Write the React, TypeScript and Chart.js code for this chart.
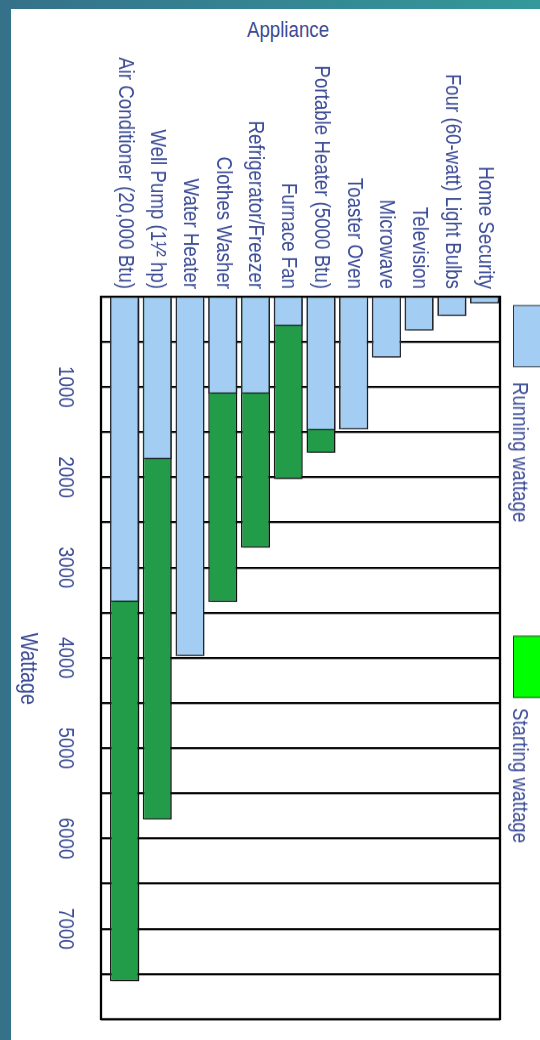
import React, { useEffect, useRef } from 'react';
import { Chart, registerables } from 'chart.js';

Chart.register(...registerables);

const categories = [
  'Air Conditioner (20,000 Btu)',
  'Well Pump (1\u00b9\u2044\u00b2 hp)',
  'Water Heater',
  'Clothes Washer',
  'Refrigerator/Freezer',
  'Furnace Fan',
  'Portable Heater (5000 Btu)',
  'Toaster Oven',
  'Microwave',
  'Television',
  'Four (60-watt) Light Bulbs',
  'Home Security',
];
const runningWattage = [3380, 1800, 3980, 1075, 1075, 325, 1480, 1470, 675, 375, 215, 75];
const startingWattage: (number | null)[] = [7580, 5790, null, 3380, 2780, 2020, 1730, null, null, null, null, null];
const wattageTicks = [1000, 2000, 3000, 4000, 5000, 6000, 7000];
const seriesNames = ['Running wattage', 'Starting wattage'];
const categoryTitle = 'Appliance';
const valueTitle = 'Wattage';

const FONT = '"Liberation Sans", Arial, sans-serif';
const TEXT = '#3c4c96';
const BLUE = '#a3cdf2';
const GREEN = '#239c4a';
const LEGEND_GREEN = '#00ff00';

// text in the reference is a narrow face: draw everything horizontally compressed
const SQ = 0.85;
const frameW = Math.round(1040 / SQ);
const frameH = 530;

export default function App() {
  const ref = useRef<HTMLCanvasElement | null>(null);

  useEffect(() => {
    if (!ref.current) return;
    const shadowPlugin = {
      id: 'barShadow',
      beforeDatasetsDraw(chart: any) {
        const ctx = chart.ctx;
        ctx.save();
        ctx.shadowColor = 'rgba(0,0,0,0.35)';
        ctx.shadowOffsetX = 2;
        ctx.shadowOffsetY = -2;
        ctx.shadowBlur = 1;
      },
      afterDatasetsDraw(chart: any) {
        chart.ctx.restore();
        const { ctx, chartArea } = chart;
        ctx.save();
        ctx.strokeStyle = '#000';
        ctx.lineWidth = 2.3;
        ctx.strokeRect(chartArea.left, chartArea.top, chartArea.right - chartArea.left, chartArea.bottom - chartArea.top);
        ctx.restore();
      },
    };

    const chart = new Chart(ref.current, {
      type: 'bar',
      data: {
        labels: categories.map((_, i) => i),
        datasets: [
          {
            label: seriesNames[0],
            data: runningWattage,
            backgroundColor: BLUE,
            borderColor: '#2a2f38',
            borderWidth: 1.6,
            grouped: false,
            categoryPercentage: 0.89,
            barPercentage: 1,
          } as any,
          {
            label: seriesNames[1],
            data: startingWattage,
            backgroundColor: GREEN,
            borderColor: '#1a1a1a',
            borderWidth: 1.6,
            grouped: false,
            categoryPercentage: 0.89,
            barPercentage: 1,
          } as any,
        ],
      },
      options: {
        indexAxis: 'y',
        responsive: false,
        animation: false,
        devicePixelRatio: 1,
        layout: { padding: { top: 40, right: 25, left: 0, bottom: 0 } },
        plugins: {
          legend: { display: false },
          tooltip: { enabled: false },
        },
        scales: {
          y: {
            type: 'linear',
            offset: false,
            min: -0.72,
            max: 11.47,
            afterBuildTicks: (s: any) => {
              s.ticks = categories.map((_, i) => ({ value: i }));
            },
            afterFit: (s: any) => {
              s.width = 349;
            },
            grid: { display: false, drawTicks: false },
            border: { display: false },
            ticks: {
              autoSkip: false,
              padding: 9,
              color: TEXT,
              font: { family: FONT, size: 22 },
              callback: (v: any) => categories[Number(v)] ?? '',
            },
          },
          x: {
            type: 'linear',
            min: 0,
            max: 8000,
            afterFit: (s: any) => {
              s.height = 91;
            },
            grid: { color: '#000', lineWidth: 2.4, drawTicks: false },
            border: { display: false },
            ticks: {
              stepSize: 500,
              autoSkip: false,
              maxRotation: 0,
              padding: 23,
              color: TEXT,
              font: { family: FONT, size: 22 },
              callback: (v: any) => (wattageTicks.includes(Number(v)) ? String(v) : ''),
            },
            title: {
              display: true,
              text: '    ' + valueTitle,
              color: TEXT,
              font: { family: FONT, size: 23 },
              padding: { top: 0, bottom: 4 },
            },
          },
        },
      } as any,
      plugins: [shadowPlugin],
    });
    return () => chart.destroy();
  }, []);

  const legendItems = [
    { name: seriesNames[0], color: BLUE, boxLeft: 305 / SQ, textLeft: 382 / SQ },
    { name: seriesNames[1], color: LEGEND_GREEN, boxLeft: 636 / SQ, textLeft: 708 / SQ },
  ];

  return (
    <div
      style={{
        position: 'fixed',
        left: 0,
        top: 0,
        width: 540,
        height: 1040,
        overflow: 'hidden',
        background: 'linear-gradient(90deg, #357189 0%, #34999a 100%)',
      }}
    >
      <div style={{ position: 'absolute', left: 11, top: 9, right: 0, bottom: 0, background: '#fff' }} />
      <div
        style={{
          position: 'absolute',
          left: 188,
          top: 19,
          width: 200,
          textAlign: 'center',
          fontFamily: FONT,
          fontSize: 22,
          lineHeight: '22px',
          color: TEXT,
          transform: `scaleX(${SQ})`,
          transformOrigin: '50% 50%',
          whiteSpace: 'nowrap',
        }}
      >
        {categoryTitle}
      </div>
      <div
        style={{
          position: 'absolute',
          left: 0,
          top: 0,
          width: frameW,
          height: frameH,
          transformOrigin: '0 0',
          transform: `translate(540px, 0px) rotate(90deg) scaleX(${SQ})`,
        }}
      >
        <canvas ref={ref} width={frameW} height={frameH} style={{ width: frameW, height: frameH, display: 'block' }} />
        {legendItems.map((it) => (
          <React.Fragment key={it.name}>
            <div
              style={{
                position: 'absolute',
                left: it.boxLeft,
                top: -13,
                width: 62 / SQ,
                height: 40,
                boxSizing: 'border-box',
                background: it.color,
                border: '1.6px solid #333',
              }}
            />
            <div
              style={{
                position: 'absolute',
                left: it.textLeft,
                top: 9,
                fontFamily: FONT,
                fontSize: 22,
                lineHeight: '22px',
                color: TEXT,
                whiteSpace: 'nowrap',
              }}
            >
              {it.name}
            </div>
          </React.Fragment>
        ))}
      </div>
    </div>
  );
}
